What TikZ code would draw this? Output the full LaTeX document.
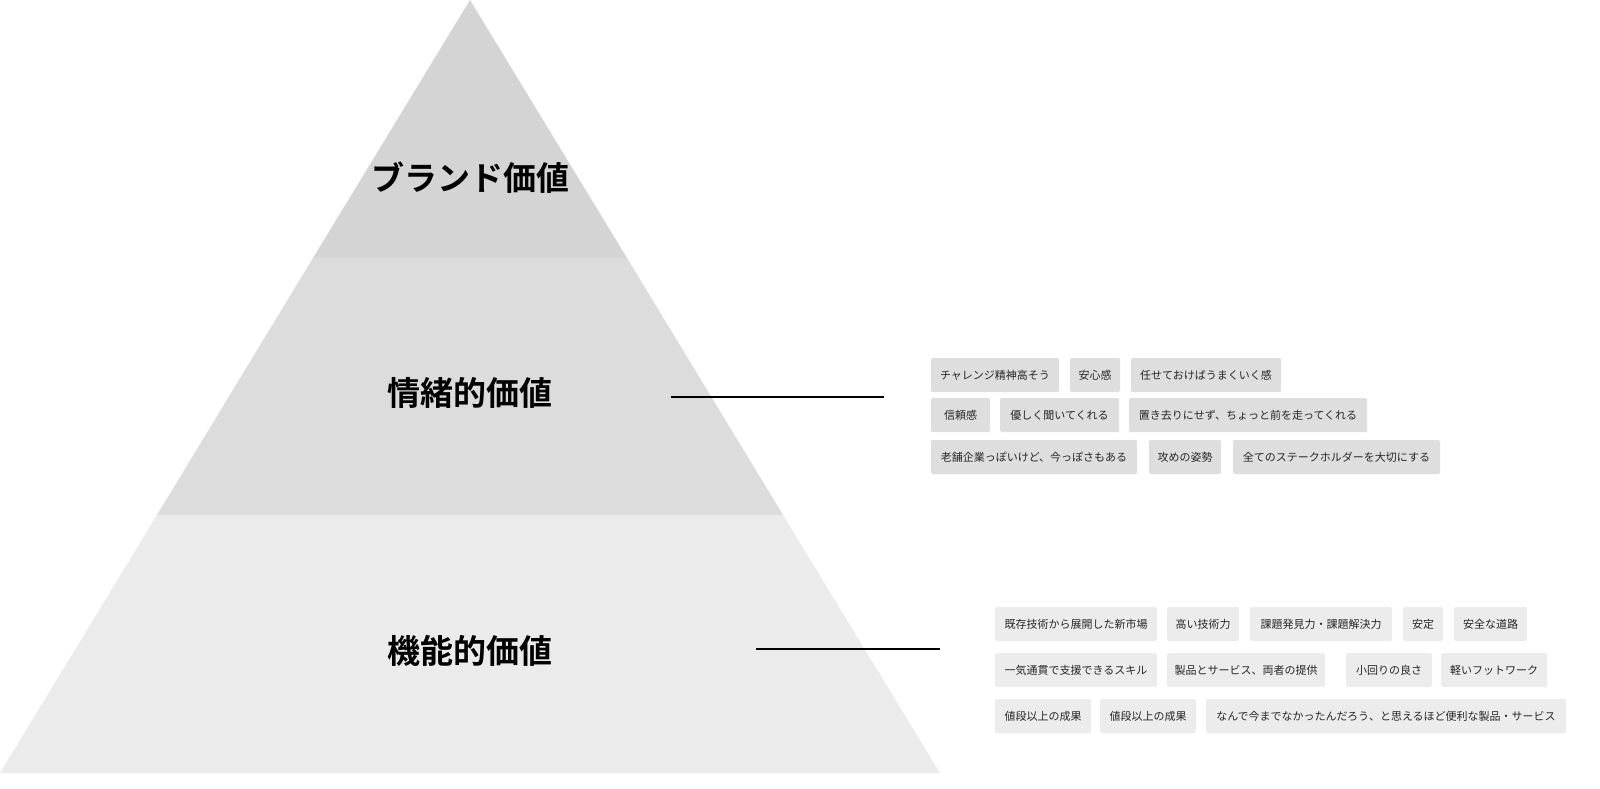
\documentclass[tikz,border=0pt]{standalone}
\usepackage{fontspec}
\setmainfont{Noto Sans CJK JP}
\newfontfamily\boldjp{Noto Sans CJK JP Bold}
\begin{document}
\begin{tikzpicture}[x=1pt,y=-1pt,
  tagA/.style={fill=tagemo,rounded corners=1.5pt,inner sep=0pt,minimum height=34pt,font=\fontsize{11}{11}\selectfont,text=black!85},
  tagB/.style={fill=tagfun,rounded corners=1.5pt,inner sep=0pt,minimum height=34pt,font=\fontsize{11}{11}\selectfont,text=black!85},
  lvl/.style={font=\boldjp\fontsize{33}{33}\selectfont,text=black}]
\definecolor{bandA}{HTML}{D4D4D4}
\definecolor{bandB}{HTML}{DCDCDC}
\definecolor{bandC}{HTML}{EBEBEB}
\definecolor{tagemo}{HTML}{DEDEDE}
\definecolor{tagfun}{HTML}{ECECEC}
\useasboundingbox (0,0) rectangle (1600,789);
\fill[bandA] (470,0) -- (313,258) -- (627,258) -- cycle;
\fill[bandB] (313,258) -- (157,515) -- (783,515) -- (627,258) -- cycle;
\fill[bandC] (157,515) -- (0,773) -- (940,773) -- (783,515) -- cycle;
\node[lvl] (brand) at (470,178) {ブランド価値};
\node[lvl] (emo) at (470,393) {情緒的価値};
\node[lvl] (fun) at (470,651) {機能的価値};
\coordinate (e1) at (671,397); \coordinate (e2) at (884,397);
\coordinate (f1) at (756,649); \coordinate (f2) at (940,649);
\draw[line width=1.2pt] (e1) -- (e2);
\draw[line width=1.2pt] (f1) -- (f2);
% emotional tags
\newcommand\tg[6]{\node[#1,minimum width=#3-#2] (#5) at ({(#2+#3)/2},#4) {#6};}
\tg{tagA}{931}{1059}{375}{a1}{チャレンジ精神高そう}
\tg{tagA}{1070}{1120}{375}{a2}{安心感}
\tg{tagA}{1131}{1281}{375}{a3}{任せておけばうまくいく感}
\tg{tagA}{931}{990}{415}{a4}{信頼感}
\tg{tagA}{1000}{1119}{415}{a5}{優しく聞いてくれる}
\tg{tagA}{1129}{1367}{415}{a6}{置き去りにせず、ちょっと前を走ってくれる}
\tg{tagA}{931}{1137}{457}{a7}{老舗企業っぽいけど、今っぽさもある}
\tg{tagA}{1149}{1221}{457}{a8}{攻めの姿勢}
\tg{tagA}{1233}{1440}{457}{a9}{全てのステークホルダーを大切にする}
% functional tags
\tg{tagB}{995}{1157}{624}{b1}{既存技術から展開した新市場}
\tg{tagB}{1167}{1239}{624}{b2}{高い技術力}
\tg{tagB}{1250}{1392}{624}{b3}{課題発見力・課題解決力}
\tg{tagB}{1403}{1443}{624}{b4}{安定}
\tg{tagB}{1454}{1527}{624}{b5}{安全な道路}
\tg{tagB}{995}{1157}{670}{b6}{一気通貫で支援できるスキル}
\tg{tagB}{1167}{1325}{670}{b7}{製品とサービス、両者の提供}
\tg{tagB}{1346}{1432}{670}{b8}{小回りの良さ}
\tg{tagB}{1441}{1547}{670}{b9}{軽いフットワーク}
\tg{tagB}{995}{1091}{716}{b10}{値段以上の成果}
\tg{tagB}{1100}{1196}{716}{b11}{値段以上の成果}
\tg{tagB}{1206}{1566}{716}{b12}{なんで今までなかったんだろう、と思えるほど便利な製品・サービス}
\end{tikzpicture}
\end{document}
